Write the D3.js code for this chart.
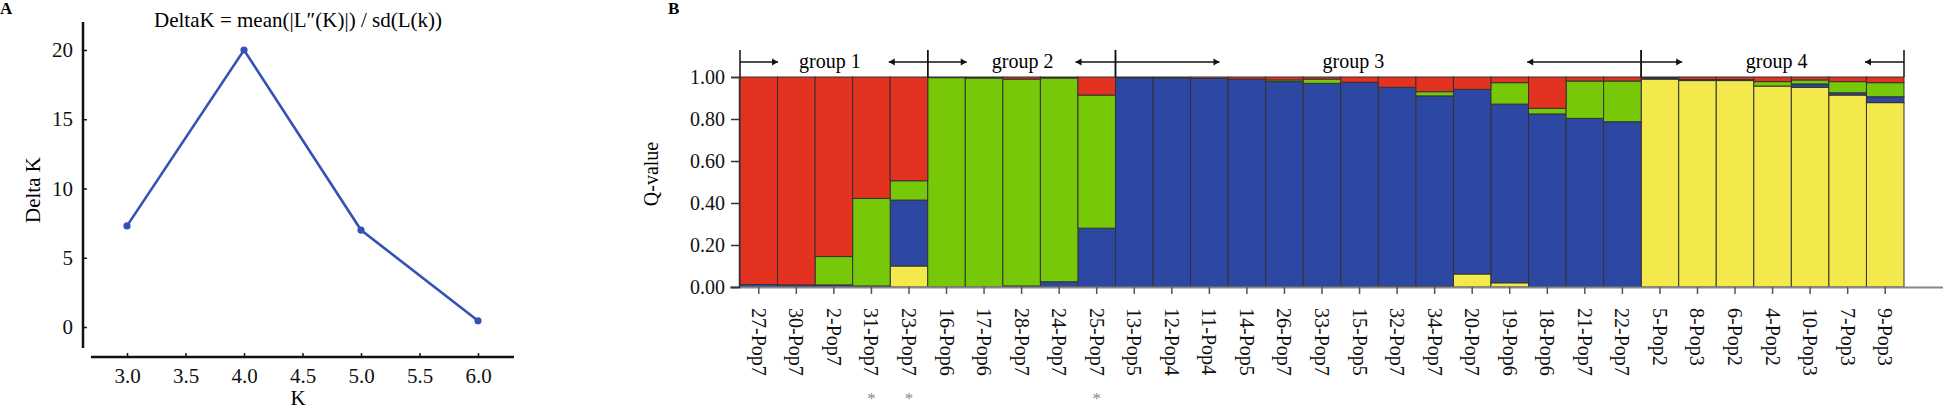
<!DOCTYPE html>
<html>
<head>
<meta charset="utf-8">
<script src="https://cdn.jsdelivr.net/npm/d3@7"></script>
<style>
  body { margin: 0; background: #fff; }
  text { font-family: "Liberation Serif", "Times New Roman", "DejaVu Serif", serif; }
</style>
</head>
<body>
<div id="chart"></div>
<script>
// ---- panel A data
const kValues = [3, 4, 5, 6];
const deltaK = [7.3, 20.0, 7.0, 0.45];
const kTicks = [3.0, 3.5, 4.0, 4.5, 5.0, 5.5, 6.0];
const deltaTicks = [0, 5, 10, 15, 20];

// ---- panel B data
const samples = ["27-Pop7", "30-Pop7", "2-Pop7", "31-Pop7", "23-Pop7", "16-Pop6", "17-Pop6", "28-Pop7",
  "24-Pop7", "25-Pop7", "13-Pop5", "12-Pop4", "11-Pop4", "14-Pop5", "26-Pop7", "33-Pop7", "15-Pop5",
  "32-Pop7", "34-Pop7", "20-Pop7", "19-Pop6", "18-Pop6", "21-Pop7", "22-Pop7", "5-Pop2", "8-Pop3",
  "6-Pop2", "4-Pop2", "10-Pop3", "7-Pop3", "9-Pop3"];
const qYellow = [0, 0, 0, 0, 0.10, 0, 0, 0, 0, 0, 0, 0, 0, 0, 0, 0, 0, 0.003, 0.003, 0.062, 0.02, 0, 0, 0,
  0.99, 0.983, 0.983, 0.957, 0.951, 0.914, 0.878];
const qBlue = [0.012, 0.01, 0.01, 0.005, 0.314, 0, 0, 0.005, 0.025, 0.28, 0.996, 0.995, 0.993, 0.99, 0.978,
  0.97, 0.975, 0.948, 0.907, 0.879, 0.851, 0.824, 0.803, 0.787, 0.005, 0.005, 0.005, 0, 0.016, 0.011, 0.028];
const qGreen = [0, 0, 0.135, 0.417, 0.092, 0.997, 0.995, 0.985, 0.97, 0.634, 0, 0, 0, 0, 0.008, 0.02, 0, 0,
  0.02, 0, 0.102, 0.027, 0.178, 0.194, 0, 0, 0, 0.021, 0.019, 0.053, 0.067];
const qRed = [0.988, 0.99, 0.855, 0.578, 0.494, 0.003, 0.005, 0.01, 0.005, 0.086, 0.004, 0.005, 0.007, 0.01,
  0.014, 0.01, 0.025, 0.049, 0.07, 0.059, 0.027, 0.149, 0.019, 0.019, 0.005, 0.012, 0.012, 0.022, 0.014,
  0.022, 0.027];
const qTicks = [0, 0.2, 0.4, 0.6, 0.8, 1.0];
const groupNames = ["group 1", "group 2", "group 3", "group 4"];
const groupFirst = ["27-Pop7", "16-Pop6", "13-Pop5", "5-Pop2"];
const groupLast = ["23-Pop7", "25-Pop7", "22-Pop7", "9-Pop3"];
const starred = ["31-Pop7", "23-Pop7", "25-Pop7"];

const width = 1946, height = 410;
const serif = "'Liberation Serif', 'Times New Roman', 'DejaVu Serif', serif";
const svg = d3.select("#chart").append("svg")
  .attr("width", width)
  .attr("height", height);

//////// PANEL A
let xA = d3.scaleLinear().domain([3, 6]).range([127, 478]);
let yA = d3.scaleLinear().domain([0, 20]).range([327, 50]);

svg.append("text").attr("x", 0).attr("y", 14)
  .style("font-size", "17px").style("font-weight", "bold").text("A");

svg.append("line").attr("x1", 83).attr("x2", 83).attr("y1", 22).attr("y2", 348)
  .attr("stroke", "#111").attr("stroke-width", 2.5);
svg.append("line").attr("x1", 91).attr("x2", 514).attr("y1", 357).attr("y2", 357)
  .attr("stroke", "#111").attr("stroke-width", 2.5);

let gyA = svg.append("g").attr("transform", "translate(83,0)")
  .call(d3.axisLeft(yA).tickValues(deltaTicks).tickSize(-4).tickPadding(10));
let gxA = svg.append("g").attr("transform", "translate(0,357)")
  .call(d3.axisBottom(xA).tickValues(kTicks).tickFormat(d3.format(".1f")).tickSize(-4).tickPadding(11));
[gyA, gxA].forEach(function(g) {
  g.select(".domain").remove();
  g.selectAll("line").attr("stroke", "#111").attr("stroke-width", 1.5);
  g.selectAll("text").style("font-size", "21px").attr("fill", "#111").style("font-family", serif);
});

svg.append("text").attr("x", 298).attr("y", 27).attr("text-anchor", "middle")
  .style("font-size", "21px").text("DeltaK = mean(|L\u2033(K)|) / sd(L(k))");
svg.append("text").attr("x", 298).attr("y", 405).attr("text-anchor", "middle")
  .style("font-size", "21px").text("K");
svg.append("text").attr("transform", "translate(40,190) rotate(-90)").attr("text-anchor", "middle")
  .style("font-size", "21px").text("Delta K");

let ptsA = kValues.map(function(k, i) { return {k: k, v: deltaK[i]}; });
svg.append("path").datum(ptsA)
  .attr("fill", "none").attr("stroke", "#3352b5").attr("stroke-width", 2.6)
  .attr("d", d3.line().x(function(d) { return xA(d.k); }).y(function(d) { return yA(d.v); }));
svg.selectAll(".ptA").data(ptsA).enter().append("circle")
  .attr("class", "ptA")
  .attr("cx", function(d) { return xA(d.k); })
  .attr("cy", function(d) { return yA(d.v); })
  .attr("r", 3.6).attr("fill", "#3352b5");

//////// PANEL B
let xB = d3.scaleBand().domain(samples).range([740, 1904]).padding(0);
let yB = d3.scaleLinear().domain([0, 1]).range([287, 77]);

svg.append("text").attr("x", 668).attr("y", 14)
  .style("font-size", "17px").style("font-weight", "bold").text("B");

let colors = {yellow: "#f3e94c", blue: "#2c48a2", green: "#78c80a", red: "#e3321f"};
let keys = ["yellow", "blue", "green", "red"];
let rows = samples.map(function(s, i) {
  return {sample: s, yellow: qYellow[i], blue: qBlue[i], green: qGreen[i], red: qRed[i]};
});
let stacked = d3.stack().keys(keys)(rows);

svg.append("g").selectAll("g").data(stacked).enter().append("g")
  .attr("fill", function(d) { return colors[d.key]; })
  .selectAll("rect").data(function(d) { return d; }).enter().append("rect")
  .attr("x", function(d) { return xB(d.data.sample); })
  .attr("width", xB.bandwidth())
  .attr("y", function(d) { return yB(d[1]); })
  .attr("height", function(d) { return Math.max(0, yB(d[0]) - yB(d[1])); })
  .attr("stroke", "#333").attr("stroke-width", 1);

// x axis
svg.append("line").attr("x1", 730).attr("x2", 1943).attr("y1", 287.5).attr("y2", 287.5)
  .attr("stroke", "#888").attr("stroke-width", 2);
let gxB = svg.append("g").attr("transform", "translate(0,287)")
  .call(d3.axisBottom(xB).tickSize(7));
gxB.select(".domain").remove();
gxB.selectAll("line").attr("stroke", "#555").attr("stroke-width", 1.5);
gxB.selectAll("text")
  .attr("x", 21).attr("y", 0).attr("dy", "0.35em")
  .attr("transform", "rotate(90)")
  .style("text-anchor", "start")
  .style("font-size", "20px").attr("fill", "#111").style("font-family", serif);

svg.selectAll(".star").data(starred).enter().append("text")
  .attr("class", "star")
  .attr("x", function(d) { return xB(d) + xB.bandwidth() / 2; })
  .attr("y", 404).attr("text-anchor", "middle")
  .attr("fill", "#888").style("font-size", "17px").text("*");

// y axis
let gyB = svg.append("g").attr("transform", "translate(739,0)")
  .call(d3.axisLeft(yB).tickValues(qTicks).tickFormat(d3.format(".2f")).tickSize(8).tickPadding(6));
gyB.select(".domain").attr("stroke", "#333").attr("stroke-width", 1.5);
gyB.selectAll("line").attr("stroke", "#333").attr("stroke-width", 1.5);
gyB.selectAll("text").style("font-size", "20px").attr("fill", "#111").style("font-family", serif);

svg.append("text").attr("transform", "translate(658,174) rotate(-90)").attr("text-anchor", "middle")
  .style("font-size", "20px").text("Q-value");

// group brackets
let arrowLens = [[38, 39], [39, 40], [104, 114], [41, 39]];
let labelShift = [-4, 1, -25, 4];
let arrowY = 62;

function arrow(x0, x1) {
  svg.append("line").attr("x1", x0).attr("x2", x1).attr("y1", arrowY).attr("y2", arrowY)
    .attr("stroke", "#111").attr("stroke-width", 1.5);
  let dir = x1 > x0 ? 1 : -1;
  svg.append("path")
    .attr("d", "M" + x1 + "," + arrowY + "L" + (x1 - dir * 6) + "," + (arrowY - 3.5) +
      "L" + (x1 - dir * 6) + "," + (arrowY + 3.5) + "Z")
    .attr("fill", "#111");
}

groupNames.forEach(function(name, i) {
  let x0 = xB(groupFirst[i]);
  let x1 = xB(groupLast[i]) + xB.bandwidth();
  [x0, x1].forEach(function(xx) {
    svg.append("line").attr("x1", xx).attr("x2", xx).attr("y1", 50).attr("y2", 77)
      .attr("stroke", "#111").attr("stroke-width", 1.5);
  });
  arrow(x0, x0 + arrowLens[i][0]);
  arrow(x1, x1 - arrowLens[i][1]);
  svg.append("text").attr("x", (x0 + x1) / 2 + labelShift[i]).attr("y", 68)
    .attr("text-anchor", "middle").style("font-size", "20px").text(name);
});
</script>
</body>
</html>
